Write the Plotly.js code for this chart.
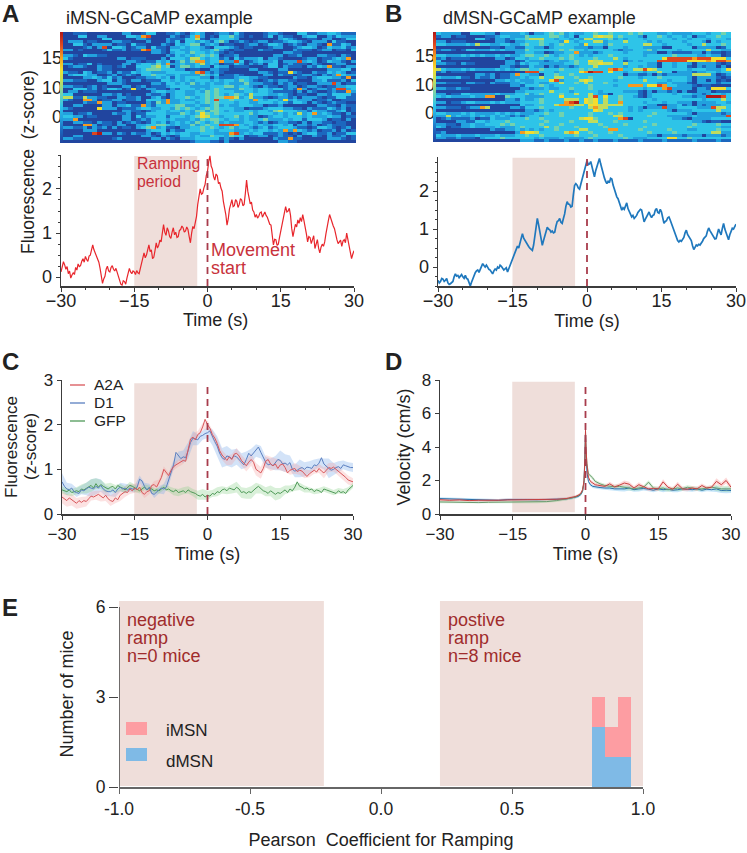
<!DOCTYPE html>
<html>
<head>
<meta charset="utf-8">
<script src="https://cdn.plot.ly/plotly-3.0.1.min.js"></script>
<style>body{margin:0;background:#fff}</style>
</head>
<body>
<div id="plot" style="width:747px;height:853px"></div>
<script>
// heatmaps: one string per trial, 0-9 colour level
const heatA = [
"0011100000 0022001330 0112102320 0122131000 0122100033 1122332111",
"0003300220 0003327800 0021013720 1033421010 0130211002 3300213222",
"0000000033 0000022100 0211133510 2233320000 0000232100 1102200133",
"0222011000 2211000200 0213033232 1342012101 2201123321 0222031100",
"0033102222 0110311000 2103234412 3201100122 0133201210 2210711320",
"0000120280 3320122031 1022323321 0333210110 0012200123 3201322312",
"2201000013 1120117822 1033223322 3421011000 2110000211 1012201103",
"0000000000 0000000022 1023324332 3210100000 0000022110 0000000000",
"2210322110 0000000000 0213232343 4301120000 0002201120 0022110210",
"3100000000 0220111000 2033325532 3312031222 3022100001 2201123270",
"0000000000 0002210113 2302424772 3372283012 3223022282 3201322102",
"2201130100 0022023324 2722322352 3201132021 2033012111 0210012200",
"0122100211 0120033345 3402442322 0322011100 0133021110 2132711022",
"0000000211 0000023444 3332201100 2211000022 0000220000 0000222330",
"2110320112 0211323322 2333332782 1210000000 2210116210 0211323201",
"0233322001 2012103343 3223222243 2301121000 0220211012 2102127322",
"0000223213 1200011223 2313233322 0211123322 1100000211 0233322170",
"2211100233 0210220111 3323232333 2323324321 0121221100 0223111203",
"0000000002 2210000022 1332324232 3223222422 2110212011 0022282011",
"2211012010 0022012011 1233332222 3334423321 0211012201 2210112233",
"0033312013 3201610221 1021333232 3432224332 3323312172 0122128823",
"0220111000 0000000023 3223322324 3433322332 3321111020 2100121172",
"3300000022 1201000211 2023322334 3432343253 3322321011 0022133331",
"5511522110 0221120023 1023343234 3447752352 2101221202 2210113311",
"2100772011 2201120333 2722322334 3833433327 3233262322 2011200111",
"0000211722 0110000214 2722333234 3433323322 3332321332 0210121100",
"0022000022 0223117213 3334422322 3423223332 2011200000 0022110211",
"2100000622 2011123322 3324343234 3433322011 1233322110 2111321201",
"0000000000 0022110123 3233232442 4432322332 3324533322 1322112301",
"2201120000 2112011333 3222432364 3433333342 3332323252 3723211020",
"3322011000 0022031223 3133323465 3323342322 0123323332 3222322011",
"2270000000 0022012133 3232223243 4432332322 3422232331 3332011020",
"0022110211 0201210132 3123232432 3423222332 1201221102 0221101100",
"0000772011 0220022334 4323224234 3388873232 3223323022 1201211100",
"2211202120 2011023472 3110223343 4323423321 2312333211 0133210120",
"0000222000 0000000233 3021133343 3233322232 3323272732 1201120201",
"0000008922 0210211201 3232332233 3222782323 3111210102 3311201133",
"0022000000 0000002210 2101332322 4332433011 2201211020 0210211201",
"2211000000 1200000022 0210222333 3312102000 0002117110 0000222101",
"0000000000 0000000000 0000001222 1102000000 0000221100 0000000000"
];
const heatB = [
"3222200333 2202222320 2234342322 3343343334 3433322322 2233323343",
"1220110000 1123322243 3334432303 3356553433 3203343233 2302233433",
"0000000033 1022123345 5533233232 5533342323 3323333323 3233323332",
"2201110000 0022102233 3433326323 3355233353 3332323333 2333203233",
"3322223253 3223322343 3432343332 6333243333 3355332333 3233533343",
"0000000000 0110221133 2202333322 2122033323 3322220033 3302222013",
"1221013322 2323222243 3333343433 2333332122 3334233332 3333353322",
"0000000000 0000002233 2201223372 2212333323 3322200211 1122021101",
"3322232323 2232322344 3343233432 3233343333 3323333343 3332232201",
"1201111000 0022013323 3433343433 3343335323 3333336888 8878886663",
"3000000000 0000220132 2212322343 3655333312 3233388888 8666676887",
"2211021100 0000221323 3222223343 3556553353 3332203323 3202222101",
"0000000000 0002210113 2202122123 3353333323 3232203323 3102122020",
"5322232322 2232323443 3433343334 3433378733 5586533333 3233322236",
"1201110000 0000000088 8333233336 7988363323 3323353302 2212233233",
"0000000022 1201127332 2033433433 3333333302 2112021222 2255552012",
"3222311021 1201122323 3533553343 3433333433 3233343333 3202222101",
"0000000000 0022323222 3336823335 6533332333 3353333233 3202202010",
"2211102211 0211122322 3223353343 5333433333 3333322322 2102222122",
"0000000000 0000022133 3432333333 3433332337 7736687332 2210110000",
"2211211000 0000000221 2232233433 3433333333 3323337822 2202216663",
"0000000000 0000002233 3335333233 3332333322 2102022120 2002220111",
"2201133222 2232223342 3433343353 3532203333 3102333323 3322123323",
"3232222322 7700433322 2233363333 3583633433 2102333333 2212299983",
"0000000000 0000221322 3433335553 6563533433 3333233333 3333233353",
"2201123322 2323222333 3433337893 6563533733 3323332332 2202222332",
"0000000000 0000000322 3333577755 3665555533 3332200223 1202122233",
"2211101227 5000022133 3433333433 3575533332 3202228223 3332228553",
"0000000000 0000000022 1232333333 3365333332 3233333202 2233333533",
"3322232322 2232323222 3343343333 3433343433 3333433333 3202222212",
"2252322323 2323212123 3233343333 3433335533 3334333222 2232222228",
"0121111201 1322233343 3433333335 6643333780 3333333322 1022223333",
"0000221133 2333433333 3343333433 3553334333 3343333333 3322101100",
"2211022322 3334343333 3433343333 3334333343 3333433333 3343333433",
"3201122322 2232223433 3353433343 3333433333 3343333333 3433333322",
"0000000000 0211223232 3233433335 5333377333 3433333433 3223333433",
"1200000000 0000002766 5333335763 3433343333 3334333343 3333335522",
"3222322232 2232223343 3433333343 3343333433 3332202222 1222022212",
"2211211102 3334333333 2322232222 3433333343 2223333663 3433333333",
"0000000000 0000000222 1121112112 1121112111 1211112111 1121111211"
];
const heatTickRowsA = [8.9, 19.7, 30.1];
const heatTickRowsB = [8.2, 18.6, 28.7];
const heatTickText = ['15', '10', '0'];

// example traces, -30 to 30 s in 0.25 s steps
const traceA = [
  .12,.22,.35,.28,.18,.24,.08,.14,-.02,.05,.10,.06,.22,.16,.30,.24,.26,.36,.42,.34,
  .47,.40,.36,.48,.50,.62,.73,.62,.55,.48,.42,.34,.20,.02,-.14,-.04,.02,.18,.25,.14,
  .12,.22,.26,.18,.14,.20,.10,.02,-.05,-.16,-.18,-.08,-.10,-.16,-.02,.12,.20,.12,.08,.14,
  .12,.06,.15,.10,.08,.20,.33,.46,.55,.44,.50,.62,.73,.58,.62,.42,.45,.60,.78,.66,
  .72,.84,.80,1.0,1.19,1.02,.95,1.12,1.05,.92,.88,1.02,1.12,.96,1.02,.90,.92,1.06,1.08,1.16,
  1.12,1.02,1.05,1.14,1.08,.92,.78,1.0,1.15,1.10,1.22,1.38,1.65,1.85,2.0,1.88,1.9,2.02,2.1,2.3,
  2.4,2.62,2.75,2.52,2.45,2.28,2.2,2.34,2.3,2.12,2.15,2.02,1.95,1.72,1.6,1.42,1.18,1.32,1.55,1.68,
  1.76,1.6,1.62,1.76,1.72,1.58,1.65,1.78,1.75,1.62,1.65,1.9,2.2,1.95,1.8,1.66,1.7,1.52,1.48,1.36,
  1.42,1.34,1.38,1.46,1.48,1.36,1.42,1.48,1.4,1.36,1.28,1.2,1.18,.95,.73,.86,.85,.72,.75,.90,
  1.05,1.2,1.3,1.46,1.6,1.48,1.5,1.56,1.4,1.1,.92,1.06,1.2,1.14,1.3,1.22,1.35,1.26,1.42,1.28,
  1.15,.98,.8,.92,.9,.76,.85,.94,.65,.78,.85,.66,.55,.68,.75,.70,.8,.98,1.1,1.28,
  1.42,1.32,1.25,1.16,1.1,.92,.85,.76,.8,.84,.7,.82,.85,.78,1.0,.86,.75,.56,.42,.52,.6];
const traceB = [
  -.35,-.42,-.38,-.30,-.32,-.38,-.35,-.30,-.42,-.46,-.44,-.40,-.38,-.26,-.18,-.24,-.22,-.28,-.25,-.20,
  -.26,-.30,-.22,-.30,-.32,-.44,-.5,-.40,-.32,-.20,-.15,-.10,-.08,-.14,-.05,.02,.09,.04,0,.05,
  -.02,-.06,-.08,-.14,-.18,-.10,-.05,-.08,0,-.04,.05,.02,-.02,-.08,-.05,-.02,-.13,-.04,.02,.10,
  .2,.26,.35,.46,.55,.50,.62,.72,.88,.76,.7,.62,.6,.54,.5,.46,.44,.58,.8,1.05,
  1.28,1.12,.9,.68,.57,.70,.8,.95,1.05,1.0,.98,.92,.95,.90,.92,1.08,1.2,1.22,1.28,1.18,
  1.15,1.28,1.4,1.6,1.72,1.66,1.65,1.58,1.6,1.9,2.15,2.2,2.16,2.08,2.05,2.18,2.3,2.44,2.55,2.7,
  2.8,2.7,2.72,2.78,2.62,2.46,2.38,2.54,2.65,2.78,2.86,2.72,2.6,2.42,2.35,2.26,2.2,2.26,2.22,2.34,
  2.32,2.16,2.05,1.96,1.85,1.8,1.72,1.6,1.5,1.56,1.52,1.62,1.69,1.54,1.45,1.38,1.32,1.36,1.28,1.32,
  1.36,1.44,1.48,1.52,1.5,1.32,1.19,1.26,1.32,1.42,1.45,1.36,1.3,1.36,1.38,1.5,1.54,1.44,1.42,1.52,
  1.45,1.3,1.15,1.2,1.22,1.3,1.32,1.24,1.15,1.04,.95,.84,.75,.70,.66,.70,.68,.74,.78,.90,
  .97,.86,.8,.74,.7,.56,.46,.52,.58,.56,.6,.58,.62,.68,.75,.78,.82,.94,1.03,.96,
  .9,.82,.8,.74,.75,.88,1.0,.92,.85,1.02,1.15,1.0,.9,.78,.72,.85,.95,1.02,1.0,1.08,1.13];

// panel C group means, 0.5 s steps
const meanA2A = [
  .38,.34,.30,.36,.32,.26,.24,.30,.26,.30, .28,.34,.40,.38,.42,.44,.40,.36,.42,.34,
  .30,.28,.36,.32,.42,.46,.50,.48,.56,.52, .58,.54,.60,.48,.44,.50,.52,.64,.66,.60,
  .70,.82,1.0,.92,.86,.98,1.06,1.10,1.14,1.16, 1.20,1.18,1.45,1.68,1.72,1.66,1.78,1.82,1.95,2.12,
  2.0,1.92,1.78,1.70,1.58,1.42,1.32,1.25,1.2,1.28, 1.22,1.34,1.36,1.30,1.2,1.14,1.08,1.16,1.22,1.16,
  1.0,.96,.92,1.02,1.18,1.22,1.12,1.08,1.12,1.02, 1.10,1.12,1.04,.92,.98,1.0,1.02,.95,.98,.96,
  .90,.84,.90,.94,.98,.94,1.02,.96,.92,.98, 1.04,1.02,1.05,1.0,.96,.92,.86,.82,.76,.74,.72];
const meanD1 = [
  .72,.62,.56,.54,.58,.50,.48,.46,.54,.52, .56,.60,.58,.56,.62,.58,.64,.56,.52,.50,
  .50,.54,.48,.56,.60,.56,.58,.54,.58,.56, .56,.60,.78,.74,.62,.54,.60,.46,.44,.50,
  .54,.58,.56,.60,.78,.92,1.1,1.38,1.30,1.24, 1.28,1.26,1.42,1.60,1.70,1.68,1.66,1.74,1.76,1.80,
  1.82,1.86,1.72,1.62,1.52,1.36,1.26,1.22,1.30,1.28, 1.24,1.30,1.28,1.22,1.18,1.10,1.22,1.36,1.30,1.36,
  1.42,1.50,1.38,1.25,1.16,1.10,1.12,1.08,1.14,1.22, 1.20,1.12,1.14,1.10,1.15,1.0,.96,.98,1.02,1.04,
  1.0,1.05,1.04,1.02,1.10,1.08,1.14,1.26,1.12,1.06, 1.02,.98,1.0,1.04,1.06,1.02,1.10,1.08,1.06,1.04,1.04];
const meanGFP = [
  .54,.52,.50,.54,.48,.50,.52,.50,.56,.54, .58,.62,.64,.58,.68,.60,.66,.62,.58,.56,
  .60,.62,.56,.64,.60,.58,.54,.60,.64,.62, .58,.56,.52,.56,.60,.54,.58,.56,.52,.54,
  .52,.56,.60,.54,.56,.52,.50,.54,.48,.50, .52,.48,.54,.50,.48,.46,.42,.40,.44,.38,
  .42,.40,.46,.44,.50,.48,.54,.56,.52,.58, .56,.54,.60,.56,.48,.50,.46,.50,.48,.54,
  .58,.62,.56,.52,.50,.46,.52,.48,.44,.48, .46,.50,.54,.48,.56,.52,.60,.72,.62,.60,
  .56,.58,.54,.56,.50,.54,.52,.48,.56,.54, .52,.50,.48,.46,.52,.48,.50,.46,.54,.60,.64];
// band half widths, 1 s steps
const semA2A = [.14,.14,.13,.12,.12,.11,.10,.10,.12,.13, .12,.12,.13,.12,.11,.10,.10,.08,.08,.08, .07,.07,.07,.08,.08,.08,.08,.09,.08,.08, .09,.10,.10,.11,.11,.12,.12,.12,.13,.14, .14,.13,.14,.16,.12,.12,.10,.10,.12,.10, .10,.08,.08,.10,.12,.10,.10,.10,.10,.10,.08];
const semD1 = [.20,.14,.10,.10,.10,.14,.20,.18,.14,.12, .10,.10,.10,.10,.09,.08,.08,.08,.08,.08, .08,.12,.14,.10,.10,.14,.18,.16,.12,.10, .12,.18,.22,.22,.22,.20,.18,.18,.18,.16, .14,.14,.12,.12,.16,.22,.20,.16,.14,.20, .16,.14,.12,.10,.12,.22,.14,.12,.10,.10,.10];
const semGFP = [.08,.08,.08,.08,.10,.12,.14,.12,.10,.10, .10,.09,.08,.08,.08,.08,.06,.06,.06,.06, .06,.06,.06,.08,.08,.08,.08,.08,.10,.12, .10,.08,.10,.08,.08,.10,.12,.12,.12,.14, .12,.10,.10,.12,.14,.12,.10,.08,.08,.08, .08,.06,.06,.06,.06,.06,.06,.06,.06,.06,.06];

// panel D velocity, denser around the movement start
const velTimes = [-30,-28,-26,-24,-22,-20,-18,-16,-14,-12,-10,-8,-6,-4,
  -3,-2,-1.5,-1,-.6,-.3,-.1,0,.1,.3,.6,1,1.5,2,2.5,3,
  4,5,6,7,8,9,10,11,12,13,14,15,16,17,18,19,20,21,22,23,24,25,26,27,28,29,30];
const velA2A = [.85,.82,.84,.8,.82,.8,.82,.84,.85,.85,.84,.85,.88,.92,
  .98,1.05,1.12,1.22,1.45,2.0,3.4,5.0,4.0,2.9,2.2,1.95,1.85,1.75,1.72,1.7,
  1.65,1.8,1.62,1.72,1.85,1.78,1.55,1.75,1.6,1.5,1.52,1.5,1.92,1.6,1.48,1.78,1.5,1.48,1.55,1.5,1.7,1.55,1.6,1.95,1.75,2.0,1.6];
const velD1 = [.92,.9,.88,.85,.82,.84,.82,.86,.88,.86,.85,.86,.88,.9,
  .95,1.0,1.05,1.15,1.35,1.9,3.2,4.8,3.6,2.5,1.95,1.75,1.65,1.62,1.6,1.58,
  1.55,1.55,1.5,1.48,1.5,1.55,1.45,1.5,1.52,1.48,1.42,1.5,1.45,1.48,1.42,1.45,1.5,1.48,1.45,1.5,1.42,1.48,1.45,1.5,1.4,1.42,1.4];
const velGFP = [.72,.7,.7,.68,.68,.7,.7,.72,.72,.72,.72,.74,.8,.88,
  .95,1.02,1.08,1.18,1.4,1.95,3.3,4.9,3.9,3.0,2.4,2.3,2.15,1.95,1.85,1.8,
  1.7,1.65,1.62,1.65,1.6,1.55,1.5,1.55,1.6,1.9,1.55,1.5,1.55,1.45,1.5,1.55,1.5,1.6,1.55,1.5,1.5,1.55,1.6,1.55,1.5,1.5,1.5];
const velSem = [.08,.08,.08,.08,.08,.08,.08,.08,.08,.08,.08,.08,.08,.08,
  .08,.08,.08,.08,.1,.1,.1,.1,.1,.1,.1,.1,.1,.1,.1,.1,
  .1,.12,.12,.12,.15,.15,.12,.15,.12,.12,.12,.12,.15,.12,.12,.15,.12,.12,.12,.12,.12,.12,.12,.18,.15,.18,.15];

// panel E histogram
const binCenters = [.83, .88, .93];
const dMSNcounts = [2, 1, 1];
const iMSNcounts = [1, 1, 2];

const W = 747, H = 853;
const FONT = '"Liberation Sans", Arial, sans-serif';
const INK = '#222';
const SHADE = '#efdeda';
const DASH = '#a83c4c';
const AXIS = '#3c3c3c';
const timeTicks = [-30, -15, 0, 15, 30];
const jet = [[0,'#21459f'],[.11,'#1c66be'],[.22,'#22a0de'],[.33,'#2cc4ea'],[.44,'#70d2b0'],
  [.55,'#bcdc60'],[.66,'#f2e030'],[.77,'#f5a020'],[.88,'#e04a20'],[1,'#b01818']];

const span = n => Array.from({length: n}, (_, i) => -30 + i * 60 / (n - 1));
const parseRows = rows => rows.map(r => r.replace(/ /g, '').split('').map(Number));
const xdom = (a, b) => [a / W, b / W];
const ydom = (top, bottom) => [1 - bottom / H, 1 - top / H];

function label(text, x, y, size, color, extra) {
  return Object.assign({
    text: text, xref: 'paper', yref: 'paper', x: (x - 2) / W, y: 1 - y / H,
    xanchor: 'left', yanchor: 'middle', showarrow: false,
    font: {family: FONT, size: size, color: color || INK}
  }, extra || {});
}
const vlabel = (text, x, y, size) => label(text, x + 2, y, size, INK, {textangle: -90, xanchor: 'center'});

function timeAxis(dom, anchor, title, standoff, fontSize, labelPull, minor) {
  const ax = {
    domain: dom, anchor: anchor, range: [-30, 30], tickmode: 'array', tickvals: timeTicks,
    ticks: 'outside', ticklen: 4, tickcolor: AXIS, showline: true, linecolor: AXIS, linewidth: 1.5,
    showgrid: false, zeroline: false, ticklabelstandoff: labelPull, tickfont: {family: FONT, size: fontSize, color: INK},
    title: {text: title, standoff: standoff, font: {family: FONT, size: 18, color: INK}}
  };
  if (minor) ax.minor = {ticks: 'outside', ticklen: 2, tickcolor: AXIS, tickmode: 'linear', tick0: -30, dtick: 5};
  return ax;
}
function valueAxis(dom, anchor, range, ticks, fontSize, minorStep) {
  const ax = {
    domain: dom, anchor: anchor, range: range, tickmode: 'array', tickvals: ticks,
    ticks: 'outside', ticklen: 4, tickcolor: AXIS, showline: true, linecolor: AXIS, linewidth: 1.5,
    showgrid: false, zeroline: false, tickfont: {family: FONT, size: fontSize, color: INK}
  };
  if (minorStep) ax.minor = {ticks: 'outside', ticklen: 2, tickcolor: AXIS, tickmode: 'linear', tick0: 0, dtick: minorStep};
  return ax;
}
function heatAxes(xd, yd, anchorX, anchorY, tickRows) {
  return [
    {domain: xd, anchor: anchorY, range: [-.5, 59.5], visible: false},
    {domain: yd, anchor: anchorX, range: [39.5, -.5], tickmode: 'array', tickvals: tickRows, ticktext: heatTickText,
     ticks: '', showline: false, showgrid: false, zeroline: false, tickfont: {family: FONT, size: 18, color: INK}}
  ];
}
function heat(rows, xa, ya, barX, barY, barLen) {
  return {
    type: 'heatmap', z: parseRows(rows), xaxis: xa, yaxis: ya, zmin: 0, zmax: 9,
    colorscale: jet, hoverinfo: 'skip',
    colorbar: {x: barX / W, xanchor: 'right', xref: 'paper', y: 1 - barY / H, yanchor: 'middle', yref: 'paper',
      len: barLen / H, lenmode: 'fraction', thickness: 2.5, outlinewidth: 0, ticks: '', showticklabels: false, xpad: 0, ypad: 0}
  };
}
function line(x, y, color, width, xa, ya) {
  return {x: x, y: y, mode: 'lines', xaxis: xa, yaxis: ya, hoverinfo: 'skip', showlegend: false,
    line: {color: color, width: width}};
}
function band(x, mean, sem, color, xa, ya) {
  const up = x.map((_, i) => mean[i] + sem[i]);
  const low = x.map((_, i) => mean[i] - sem[i]).reverse();
  return {x: x.concat(x.slice().reverse()), y: up.concat(low), mode: 'lines', fill: 'toself', fillcolor: color,
    line: {width: 0}, xaxis: xa, yaxis: ya, hoverinfo: 'skip', showlegend: false};
}
// mean series sampled every 1 s to line up with the band widths
const everySecond = s => s.filter((_, i) => i % 2 === 0);
function shade(xa, ya, x0, x1, y0, y1) {
  return {type: 'rect', xref: xa, yref: ya, x0: x0, x1: x1, y0: y0, y1: y1, fillcolor: SHADE, line: {width: 0}, layer: 'below'};
}
function startLine(xa, ya, y0, y1) {
  return {type: 'line', xref: xa, yref: ya, x0: 0, x1: 0, y0: y0, y1: y1, line: {color: DASH, width: 1.8, dash: '7px,5px'}};
}
function key(x0, x1, y, color) {
  return {type: 'line', xref: 'paper', yref: 'paper', x0: x0 / W, x1: x1 / W, y0: 1 - y / H, y1: 1 - y / H, line: {color: color, width: 1.3}};
}
function swatch(x0, x1, y0, y1, color) {
  return {type: 'rect', xref: 'paper', yref: 'paper', x0: x0 / W, x1: x1 / W, y0: 1 - y1 / H, y1: 1 - y0 / H, fillcolor: color, line: {width: 0}};
}

const RED = '#e8262c', BLUE = '#1f78bd';
const cRed = '#d8565a', cBlue = '#5a7fc0', cGreen = '#4f9a58';
const secs = span(61);
const data = [
  heat(heatA, 'x', 'y', 63, 87.5, 111),
  line(span(traceA.length), traceA, RED, 1.2, 'x2', 'y2'),
  heat(heatB, 'x3', 'y3', 436, 87, 110),
  line(span(traceB.length), traceB, BLUE, 1.7, 'x4', 'y4'),

  band(secs, everySecond(meanD1), semD1, 'rgba(130,175,235,.35)', 'x5', 'y5'),
  band(secs, everySecond(meanA2A), semA2A, 'rgba(245,160,160,.3)', 'x5', 'y5'),
  band(secs, everySecond(meanGFP), semGFP, 'rgba(130,205,130,.3)', 'x5', 'y5'),
  line(span(meanGFP.length), meanGFP, cGreen, 1, 'x5', 'y5'),
  line(span(meanD1.length), meanD1, cBlue, 1, 'x5', 'y5'),
  line(span(meanA2A.length), meanA2A, cRed, 1, 'x5', 'y5'),

  band(velTimes, velD1, velSem, 'rgba(110,190,240,.4)', 'x6', 'y6'),
  band(velTimes, velGFP, velSem, 'rgba(130,205,130,.3)', 'x6', 'y6'),
  band(velTimes, velA2A, velSem, 'rgba(250,170,170,.45)', 'x6', 'y6'),
  line(velTimes, velD1, '#2a70a8', 1, 'x6', 'y6'),
  line(velTimes, velGFP, '#6a9a70', 1, 'x6', 'y6'),
  line(velTimes, velA2A, '#c84040', 1, 'x6', 'y6'),

  {type: 'bar', x: binCenters, y: dMSNcounts, width: .05, marker: {color: '#7fbae6', line: {width: 0}},
   xaxis: 'x7', yaxis: 'y7', hoverinfo: 'skip', showlegend: false},
  {type: 'bar', x: binCenters, y: iMSNcounts, width: .05, marker: {color: '#fd9da2', line: {width: 0}},
   xaxis: 'x7', yaxis: 'y7', hoverinfo: 'skip', showlegend: false}
];

const [hx1, hy1] = heatAxes(xdom(63, 356), ydom(32, 143), 'x', 'y', heatTickRowsA);
const [hx3, hy3] = heatAxes(xdom(436, 731), ydom(32, 142), 'x3', 'y3', heatTickRowsB);

const axisE = {
  domain: xdom(119, 643), anchor: 'y7', range: [-1, 1], tickmode: 'array', tickvals: [-1, -.5, 0, .5, 1],
  ticktext: ['-1.0', '-0.5', '0.0', '0.5', '1.0'], ticks: 'outside', ticklen: 5, tickcolor: '#666',
  showline: true, linecolor: '#666', linewidth: 1.5, showgrid: false, zeroline: false,
  tickfont: {family: FONT, size: 17.5, color: INK},
  title: {text: 'Pearson&nbsp; Coefficient for Ramping', standoff: 16, font: {family: FONT, size: 18, color: INK}}
};
const axisEy = {
  domain: ydom(601, 787), anchor: 'x7', range: [0, 6.2], tickmode: 'array', tickvals: [0, 3, 6],
  ticks: 'outside', ticklen: 9, tickcolor: '#444', showline: false, showgrid: false, zeroline: false,
  tickfont: {family: FONT, size: 17.5, color: INK},
  title: {text: 'Number of mice', standoff: 17, font: {family: FONT, size: 18, color: INK}}
};
const axisD = valueAxis(ydom(380, 514), 'x6', [0, 8], [0, 2, 4, 6, 8], 17);
axisD.title = {text: 'Velocity (cm/s)', standoff: 6, font: {family: FONT, size: 18, color: INK}};

// panel A's time label sits right of the axis centre, so it is placed by hand
const axisAx = timeAxis(xdom(61, 354), 'y2', '', 2, 18, -6, true);

const layout = {
  width: W, height: H, margin: {l: 0, r: 0, t: 0, b: 0}, paper_bgcolor: '#fff', plot_bgcolor: 'rgba(0,0,0,0)',
  showlegend: false, barmode: 'stack', font: {family: FONT, color: INK},
  xaxis: hx1, yaxis: hy1,
  xaxis2: axisAx,
  yaxis2: valueAxis(ydom(155, 286), 'x2', [-.2, 2.77], [0, 1, 2], 18, .25),
  xaxis3: hx3, yaxis3: hy3,
  xaxis4: timeAxis(xdom(438, 736), 'y4', 'Time (s)', 2, 18, -6, true),
  yaxis4: valueAxis(ydom(157, 286), 'x4', [-.5, 2.9], [0, 1, 2], 18, .25),
  xaxis5: timeAxis(xdom(62, 353), 'y5', 'Time (s)', 2, 17, 0, false),
  yaxis5: valueAxis(ydom(380, 514), 'x5', [0, 3], [0, 1, 2, 3], 17),
  xaxis6: timeAxis(xdom(440, 731), 'y6', 'Time (s)', 2, 17, 0, false),
  yaxis6: axisD,
  xaxis7: axisE, yaxis7: axisEy,
  shapes: [
    shade('x2', 'y2', -15, -2.1, -.2, 2.75),
    shade('x4', 'y4', -15, -2.4, -.5, 2.88),
    shade('x5', 'y5', -15.1, -2.2, 0, 2.93),
    shade('x6', 'y6', -15.1, -2.2, .1, 7.9),
    shade('x7', 'y7', -1, -.218, .03, 6.2),
    shade('x7', 'y7', .225, 1, .03, 6.2),
    startLine('x2', 'y2', -.2, 2.7),
    startLine('x4', 'y4', -.5, 2.88),
    startLine('x5', 'y5', 0, 2.9),
    startLine('x6', 'y6', 0, 7.8),
    {type: 'line', xref: 'x7', yref: 'y7', x0: -1, x1: -1, y0: 0, y1: 6, line: {color: '#444', width: 1.5}},
    key(70, 85, 385, cRed), key(70, 85, 403, cBlue), key(70, 85, 421, cGreen),
    swatch(126, 147, 722, 735, '#fd9da2'), swatch(126, 147, 748, 761, '#7fbae6')
  ],
  annotations: [
    label('<b>A</b>', 2, 14, 24), label('<b>B</b>', 385, 14, 24), label('<b>C</b>', 2, 361, 24),
    label('<b>D</b>', 385, 361, 24), label('<b>E</b>', 2, 607, 24),
    label('iMSN-GCaMP example', 66, 18, 18), label('dMSN-GCaMP example', 443, 18, 18),
    label('Time (s)', 183, 320, 18),
    vlabel('Fluorescence&nbsp; (z-score)', 28, 162, 17.5),
    vlabel('Fluorescence', 11, 447, 17), vlabel('(z-score)', 30, 447, 17),
    label('Ramping', 137, 163, 15.8, '#c8323c'), label('period', 137, 181, 15.8, '#c8323c'),
    label('Movement', 211, 250, 18, '#c8323c'), label('start', 211, 268, 18, '#c8323c'),
    label('A2A', 94, 385, 15.5), label('D1', 94, 403, 15.5), label('GFP', 94, 421, 15.5),
    label('negative', 127, 620, 18, '#a02c2c'), label('ramp', 127, 638, 18, '#a02c2c'), label('n=0 mice', 127, 656, 18, '#a02c2c'),
    label('postive', 448, 620, 18, '#a02c2c'), label('ramp', 448, 638, 18, '#a02c2c'), label('n=8 mice', 448, 656, 18, '#a02c2c'),
    label('iMSN', 166, 730, 17), label('dMSN', 166, 761, 17)
  ]
};

Plotly.newPlot('plot', data, layout, {displayModeBar: false, staticPlot: true});
</script>
</body>
</html>
